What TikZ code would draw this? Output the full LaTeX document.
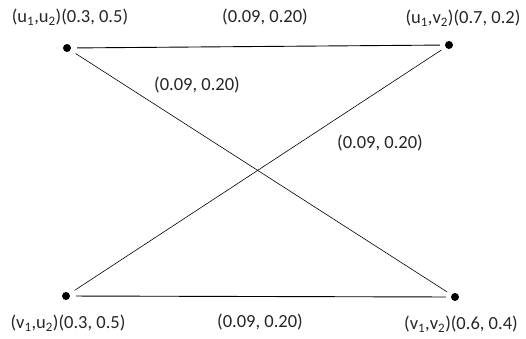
\documentclass[tikz,border=0pt]{standalone}
\usepackage{fontspec}
\setmainfont{Carlito}
\usepackage{tikz}
\usetikzlibrary{positioning}
\tikzset{
  vert/.style={circle,fill=black,inner sep=0pt,minimum size=8pt},
  vlab/.style={inner sep=0pt,font=\fontsize{18.5}{20}\selectfont,text=black!85},
  elab/.style={vlab},
  edge/.style={draw=black,line width=0.9pt,shorten <=6pt,shorten >=5pt},
  cross/.style={edge,line width=0.6pt},
}
\newcommand{\sub}[1]{\textsubscript{#1}}
\begin{document}
\begin{tikzpicture}[x=1pt,y=-1pt]
  \useasboundingbox (0,0) rectangle (526,338);
  % the four product vertices
  \node[vert] (uu) at (67,48)  {};
  \node[vert] (uv) at (449,45) {};
  \node[vert] (vu) at (66,296) {};
  \node[vert] (vv) at (455,297) {};
  \node[vlab] (luu) at (70,17)  {(u\sub{1},u\sub{2})(0.3, 0.5)};
  \node[vlab] (luv) at (463,18) {(u\sub{1},v\sub{2})(0.7, 0.2)};
  \node[vlab] (lvu) at (68,323) {(v\sub{1},u\sub{2})(0.3, 0.5)};
  \node[vlab,anchor=west] (lvv) at (404,324) {(v\sub{1},v\sub{2})(0.6, 0.4)};
  % edges with their weights
  \draw[edge]  (uu) -- (uv);
  \draw[edge]  (vu) -- (vv);
  \draw[cross] (uu) -- (vv);
  \draw[cross] (vu) -- (uv);
  \node[elab] (etop) at (265,17)  {(0.09, 0.20)};
  \node[elab] (ed1)  at (197,85)  {(0.09, 0.20)};
  \node[elab] (ed2)  at (380,143) {(0.09, 0.20)};
  \node[elab] (ebot) at (260,322) {(0.09, 0.20)};
\end{tikzpicture}
\end{document}
